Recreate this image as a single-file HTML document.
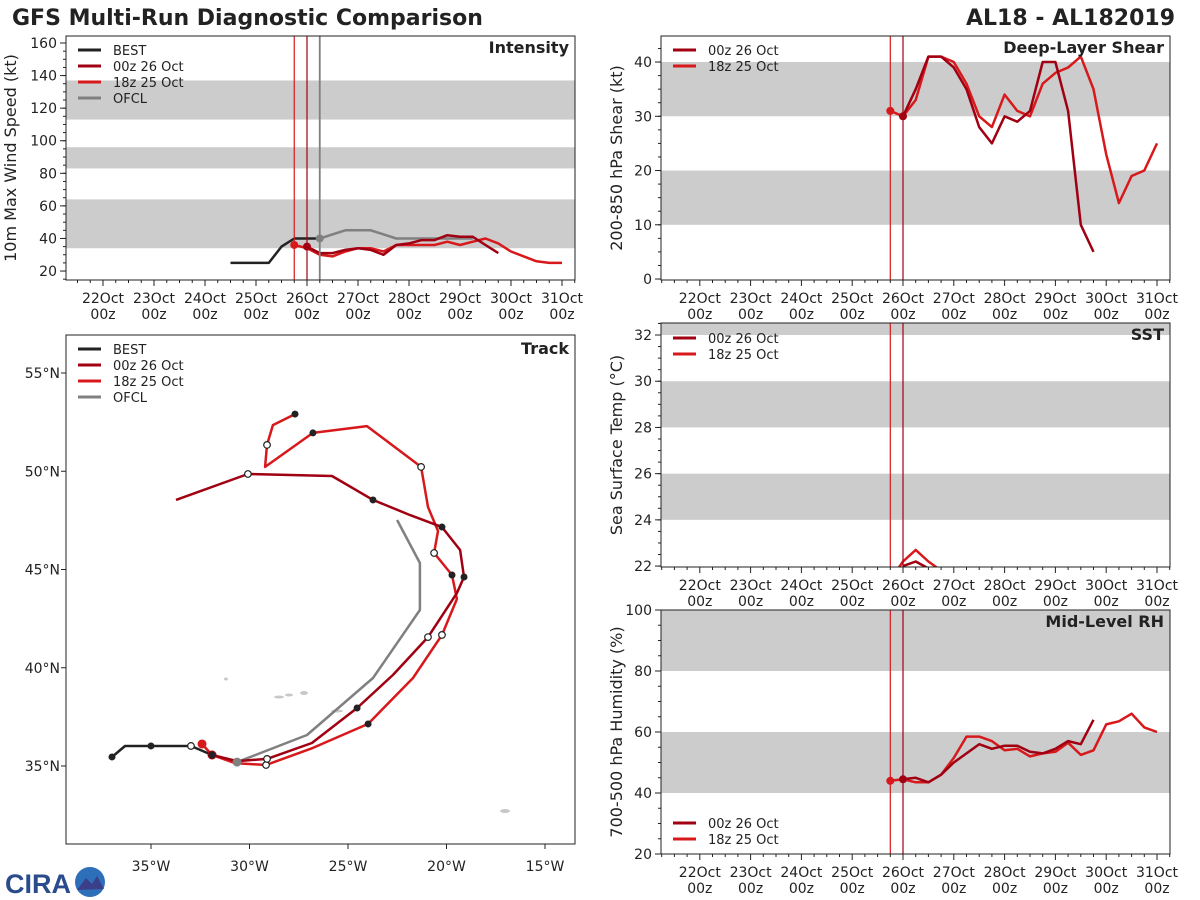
<!DOCTYPE html>
<html><head><meta charset="utf-8"><style>
body{margin:0;background:#fff;}
svg{display:block;font-family:"DejaVu Sans","Liberation Sans",sans-serif;}
</style></head><body>
<svg id="fig" width="1200" height="900" viewBox="0 0 1200 900">
<text x="12" y="25" font-size="22" font-weight="bold" fill="#222">GFS Multi-Run Diagnostic Comparison</text>
<text x="1175" y="25" font-size="22" font-weight="bold" fill="#222" text-anchor="end">AL18 - AL182019</text>
<g>
<text x="5" y="893" font-size="27" font-weight="bold" fill="#2a4c8c" font-family="Liberation Sans,sans-serif">CIRA</text>
<circle cx="90" cy="882" r="15" fill="#2d6fb8"/>
<path d="M77 890 L86 878 L92 884 L97 876 L104 889 Z" fill="#3b3f8a"/>
</g>
</svg>
<script>
// ---- data (days since 21 Oct 00z) ----
const intBestT=[3.5,4.25,4.5,4.75,5,5.25];
const intBestV=[25,25,35,40,40,40];
const intOfclT=[5.25,5.75,6.25,6.75,7.25,8.25];
const intOfclV=[40,45,45,40,40,40];
const int00T=[5,5.25,5.5,5.75,6,6.25,6.5,6.75,7,7.25,7.5,7.75,8,8.25,8.5,8.75];
const int00V=[35,31,31,33,34,33,30,36,37,39,39,42,41,41,36,31];
const int18T=[4.75,5,5.25,5.5,5.75,6,6.25,6.5,6.75,7,7.25,7.5,7.75,8,8.25,8.5,8.75,9,9.25,9.5,9.75,10];
const int18V=[36,34,30,29,32,34,34,32,36,36,36,36,38,36,38,40,37,32,29,26,25,25];
const shr00T=[5,5.25,5.5,5.75,6,6.25,6.5,6.75,7,7.25,7.5,7.75,8,8.25,8.5,8.75];
const shr00V=[30,35,41,41,39,35,28,25,30,29,31,40,40,31,10,5];
const shr18T=[4.75,5,5.25,5.5,5.75,6,6.25,6.5,6.75,7,7.25,7.5,7.75,8,8.25,8.5,8.75,9,9.25,9.5,9.75,10];
const shr18V=[31,30,33,41,41,40,36,30,28,34,31,30,36,38,39,41,35,23,14,19,20,25];
const sst00T=[5,5.25,5.5];
const sst00V=[22,22.2,21.9];
const sst18T=[4.75,5,5.25,5.5,5.75];
const sst18V=[21.4,22.2,22.7,22.2,21.8];
const rh00T=[5,5.25,5.5,5.75,6,6.25,6.5,6.75,7,7.25,7.5,7.75,8,8.25,8.5,8.75];
const rh00V=[44.5,45,43.5,46,50,53,56,54.5,55.5,55.5,53.5,53,54.5,57,56,64];
const rh18T=[4.75,5,5.25,5.5,5.75,6,6.25,6.5,6.75,7,7.25,7.5,7.75,8,8.25,8.5,8.75,9,9.25,9.5,9.75,10];
const rh18V=[44,44.5,43.5,43.5,46,51.5,58.5,58.5,57,54,54.5,52,53,53.5,56.5,52.5,54,62.5,63.5,66,61.5,60];
const dayLabels=["22Oct","23Oct","24Oct","25Oct","26Oct","27Oct","28Oct","29Oct","30Oct","31Oct"];
const trkBestLon=[-36.98,-36.32,-35.0,-32.97,-31.90];
const trkBestLat=[35.46,36.02,36.02,36.02,35.56];
const trkOfclLon=[-30.63,-27.08,-23.73,-21.35,-21.35,-22.51];
const trkOfclLat=[35.20,36.58,39.48,42.94,45.33,47.52];
const trk00Lon=[-31.90,-30.63,-29.11,-26.83,-24.54,-22.72,-20.94,-19.47,-19.11,-19.31,-20.23,-21.85,-23.73,-25.81,-30.08,-33.73];
const trk00Lat=[35.56,35.25,35.36,36.17,37.95,39.63,41.56,43.80,44.62,45.99,47.16,47.77,48.54,49.76,49.86,48.54];
const trk18Lon=[-32.41,-31.90,-30.74,-29.16,-26.78,-23.98,-21.70,-20.23,-19.47,-19.72,-20.63,-20.43,-20.94,-21.29,-24.04,-26.78,-29.21,-29.11,-28.81,-27.69];
const trk18Lat=[36.12,35.56,35.15,35.05,35.92,37.14,39.48,41.67,43.50,44.72,45.84,46.96,48.18,50.22,52.30,51.95,50.22,51.34,52.35,52.91];
const trkBestFill=[0,2,4], trkBestOpen=[3];
const trk00Fill=[4,8,10,12], trk00Open=[2,6,14];
const trk18Fill=[5,9,15,19], trk18Open=[3,7,10,13,17];

const NS="http://www.w3.org/2000/svg";
const svg=document.getElementById('fig');
function el(tag,attrs,parent){const e=document.createElementNS(NS,tag);for(const k in attrs)e.setAttribute(k,attrs[k]);(parent||svg).appendChild(e);return e;}
const C00="#a00012",C18="#d7191c",CB="#222",CO="#808080",BAND="#cccccc";

function panel(o){
  const g=el('g',{});
  
  
  const {x0,x1,y0,y1}=o;
  const clipId='clip-'+o.name;
  const cp=el('clipPath',{id:clipId},g);el('rect',{x:x0,y:y0,width:x1-x0,height:y1-y0},cp);
  const inner=el('g',{'clip-path':'url(#'+clipId+')'},g);
  return {g,inner};
}
function drawLine(parent,xs,ys,color,w,name){
  const p=el('polyline',{points:xs.map((x,i)=>x.toFixed(1)+','+ys[i].toFixed(1)).join(' '),fill:'none',stroke:color,'stroke-width':w,'stroke-linejoin':'round'},parent);
  
  
  return p;
}
function legend(parent,x,y,items){
  items.forEach((it,i)=>{
    const lg=el('g',{},parent);
    
    
    el('line',{x1:x,x2:x+23,y1:y+i*16,y2:y+i*16,stroke:it[1],'stroke-width':3},lg);
    const t=el('text',{x:x+35,y:y+i*16+5,'font-size':13,fill:'#222'},lg);t.textContent=it[0];
  });
}
function timePanel(o){
  const {x0,x1,y0,y1,dx0,dpx,vmin,vmax,ticks,minor,bands,title,ylabel,series,vlines}=o;
  const P=panel(o);
  const X=d=>dx0+dpx*d, Y=v=>y1-(v-vmin)/(vmax-vmin)*(y1-y0);
  bands.forEach((b,i)=>{const r=el('rect',{x:x0,y:Y(b[1]),width:x1-x0,height:Y(b[0])-Y(b[1]),fill:BAND},P.inner);
    });
  series.forEach(s=>{drawLine(P.inner,s.t.map(X),s.v.map(Y),s.c,2.5,s.n);});
  vlines.forEach(v=>{const l=el('line',{x1:X(v[0]),x2:X(v[0]),y1:y0,y2:y1,stroke:v[1],'stroke-width':v[2]||1.2},P.g);
    });
  series.forEach(s=>{if(s.dot){const c=el('circle',{cx:X(s.t[0]),cy:Y(s.v[0]),r:4,fill:s.c},P.g);}});
  el('rect',{x:x0,y:y0,width:x1-x0,height:y1-y0,fill:'none',stroke:'#222','stroke-width':1},P.g);
  for(let q=Math.ceil((x0-dx0)/dpx*4);X(q/4)<=x1;q++){
    const xx=X(q/4),maj=q%4===0;
    el('line',{x1:xx,x2:xx,y1:y1,y2:y1+(maj?6:3),stroke:'#222','stroke-width':1},P.g);
  }
  dayLabels.forEach((lab,i)=>{const xx=X(i+1);
    const t=el('text',{x:xx,y:y1+23,'font-size':14,'text-anchor':'middle',fill:'#222'},P.g);t.textContent=lab;
    
    const t2=el('text',{x:xx,y:y1+39,'font-size':14,'text-anchor':'middle',fill:'#222'},P.g);t2.textContent='00z';});
  ticks.forEach(v=>{el('line',{x1:x0,x2:x0-6,y1:Y(v),y2:Y(v),stroke:'#222'},P.g);
    const t=el('text',{x:x0-9,y:Y(v)+5,'font-size':14,'text-anchor':'end',fill:'#222'},P.g);t.textContent=v;
    });
  for(let v=Math.ceil(vmin/minor)*minor;v<=vmax+1e-9;v+=minor){el('line',{x1:x0,x2:x0-3,y1:Y(v),y2:Y(v),stroke:'#222'},P.g);}
  const tt=el('text',{x:x1-6,y:y0+17,'font-size':16,'font-weight':'bold','text-anchor':'end',fill:'#222'},P.g);tt.textContent=title;
  
  const cy=(y0+y1)/2, lx=o.ylx;
  const yl=el('text',{x:lx,y:cy,'font-size':16,'text-anchor':'middle',fill:'#222',transform:`rotate(-90 ${lx} ${cy})`},P.g);yl.textContent=ylabel;
  
  legend(P.g,x0+12,o.legY,o.legend);
}
const L00=["00z 26 Oct",C00,"00z"],L18=["18z 25 Oct",C18,"18z"];
timePanel({name:'intensity-panel',x0:66,x1:575,y0:36,y1:280,dx0:52,dpx:51,vmin:14.5,vmax:164.3,ticks:[20,40,60,80,100,120,140,160],minor:5,
 bands:[[34,64],[83,96],[113,137]],title:'Intensity',ylabel:'10m Max Wind Speed (kt)',ylx:16,legY:50,
 legend:[["BEST",CB,"best"],L00,L18,["OFCL",CO,"ofcl"]],
 vlines:[[4.75,C18],[5,C00],[5.25,CO,1.8]],
 series:[{t:intBestT,v:intBestV,c:CB,n:'best-intensity-line'},{t:intOfclT,v:intOfclV,c:CO,n:'ofcl-intensity-line',dot:1},
  {t:int18T,v:int18V,c:C18,n:'run-18z-intensity-line',dot:1},{t:int00T,v:int00V,c:C00,n:'run-00z-intensity-line',dot:1}]});
timePanel({name:'shear-panel',x0:661,x1:1170,y0:36,y1:280,dx0:649,dpx:50.8,vmin:-0.18,vmax:44.8,ticks:[0,10,20,30,40],minor:2.5,
 bands:[[10,20],[30,40]],title:'Deep-Layer Shear',ylabel:'200-850 hPa Shear (kt)',ylx:622,legY:50,legend:[L00,L18],
 vlines:[[4.75,C18],[5,C00]],
 series:[{t:shr18T,v:shr18V,c:C18,n:'run-18z-shear-line',dot:1},{t:shr00T,v:shr00V,c:C00,n:'run-00z-shear-line',dot:1}]});
timePanel({name:'sst-panel',x0:661,x1:1170,y0:323,y1:567,dx0:649,dpx:50.8,vmin:21.96,vmax:32.52,ticks:[22,24,26,28,30,32],minor:0.5,
 bands:[[24,26],[28,30],[32,33]],title:'SST',ylabel:'Sea Surface Temp (°C)',ylx:622,legY:338,legend:[L00,L18],
 vlines:[[4.75,C18],[5,C00]],
 series:[{t:sst18T,v:sst18V,c:C18,n:'run-18z-sst-line'},{t:sst00T,v:sst00V,c:C00,n:'run-00z-sst-line'}]});
timePanel({name:'rh-panel',x0:661,x1:1170,y0:610,y1:854,dx0:649,dpx:50.8,vmin:20,vmax:100,ticks:[20,40,60,80,100],minor:5,
 bands:[[40,60],[80,100]],title:'Mid-Level RH',ylabel:'700-500 hPa Humidity (%)',ylx:622,legY:823,legend:[L00,L18],
 vlines:[[4.75,C18],[5,C00]],
 series:[{t:rh18T,v:rh18V,c:C18,n:'run-18z-rh-line',dot:1},{t:rh00T,v:rh00V,c:C00,n:'run-00z-rh-line',dot:1}]});

(function(){
  const x0=66,x1=575,y0=335,y1=844;
  const P=panel({name:'track-panel',x0,x1,y0,y1});
  const X=lon=>151+(lon+35)*19.7, Y=lat=>373-(lat-55)*19.65;
  [[226,679,2,1.5],[279,697,5,1.5],[289,695,4,1.5],[304,693,4,2],[337,711,6,1.5],[505,811,5,2]].forEach(p=>el('ellipse',{cx:p[0],cy:p[1],rx:p[2],ry:p[3],fill:'#c8c8c8'},P.inner));
  const tracks=[[trkOfclLon,trkOfclLat,CO,'ofcl-track',[],[]],[trkBestLon,trkBestLat,CB,'best-track',trkBestFill,trkBestOpen],
    [trk18Lon,trk18Lat,C18,'run-18z-track',trk18Fill,trk18Open],[trk00Lon,trk00Lat,C00,'run-00z-track',trk00Fill,trk00Open]];
  tracks.forEach(t=>drawLine(P.inner,t[0].map(X),t[1].map(Y),t[2],2.5,t[3]));
  el('circle',{cx:X(trk18Lon[0]),cy:Y(trk18Lat[0]),r:4.5,fill:C18},P.inner);
  el('circle',{cx:X(trk00Lon[0]),cy:Y(trk00Lat[0]),r:4.5,fill:C00},P.inner);
  el('circle',{cx:X(trkOfclLon[0]),cy:Y(trkOfclLat[0]),r:4.5,fill:CO},P.inner);
  tracks.forEach(t=>{
    t[4].forEach(i=>{const c=el('circle',{cx:X(t[0][i]),cy:Y(t[1][i]),r:3.5,fill:'#222'},P.inner);});
    t[5].forEach(i=>{const c=el('circle',{cx:X(t[0][i]),cy:Y(t[1][i]),r:3.3,fill:'#fff',stroke:'#222','stroke-width':1.2},P.inner);});
  });
  el('rect',{x:x0,y:y0,width:x1-x0,height:y1-y0,fill:'none',stroke:'#222'},P.g);
  [-35,-30,-25,-20,-15].forEach(l=>{el('line',{x1:X(l),x2:X(l),y1:y1,y2:y1+5,stroke:'#222'},P.g);
    const t=el('text',{x:X(l),y:y1+27,'font-size':14,'text-anchor':'middle',fill:'#222'},P.g);t.textContent=(-l)+'°W';
    });
  [35,40,45,50,55].forEach(l=>{el('line',{x1:x0,x2:x0-5,y1:Y(l),y2:Y(l),stroke:'#222'},P.g);
    const t=el('text',{x:x0-6,y:Y(l)+5,'font-size':14,'text-anchor':'end',fill:'#222'},P.g);t.textContent=l+'°N';
    });
  const tt=el('text',{x:x1-6,y:y0+19,'font-size':16,'font-weight':'bold','text-anchor':'end',fill:'#222'},P.g);tt.textContent='Track';
  
  legend(P.g,x0+12,349,[["BEST",CB,"best"],L00,L18,["OFCL",CO,"ofcl"]]);
})();
</script>
</body></html>
